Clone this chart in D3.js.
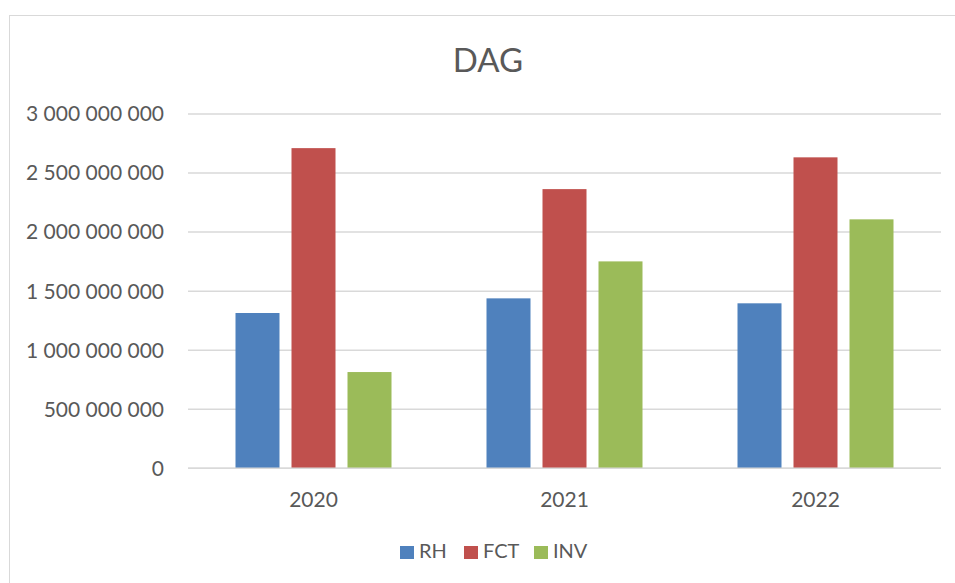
<!DOCTYPE html>
<html><head><meta charset="utf-8">
<script src="https://cdn.jsdelivr.net/npm/d3@7"></script>
<style>body{margin:0;background:#fff}svg{display:block}text{font-family:Lato,"Open Sans",sans-serif;fill:#595959}</style>
</head><body><svg id="c" width="955" height="583"></svg>
<script>
const categories = ["2020","2021","2022"];
const seriesNames = ["RH","FCT","INV"];
const RH  = [1315000000, 1439000000, 1397000000];
const FCT = [2711000000, 2364000000, 2633000000];
const INV = [815000000, 1752000000, 2108000000];
const yTicks = [0,500000000,1000000000,1500000000,2000000000,2500000000,3000000000];
const colors = ["#4F81BD","#C0504D","#9BBB59"];
const seriesValues = [RH, FCT, INV];

const svg = d3.select("#c");
svg.append("rect").attr("x",9.5).attr("y",15.5).attr("width",1000).attr("height",1000)
  .attr("fill","#fff").attr("stroke","#d9d9d9").attr("stroke-width",1);

const pLeft=188, pRight=941, pTop=114, pBottom=468.3;
const x0 = d3.scaleBand().domain(categories).range([pLeft,pRight]).paddingInner(0).paddingOuter(0);
const y = d3.scaleLinear().domain([0,3000000000]).range([pBottom,pTop]);
const fmt = v => d3.format(",")(v).replace(/,/g," ");

// gridlines
svg.append("g").selectAll("line").data(yTicks).join("line")
  .attr("x1",pLeft).attr("x2",pRight).attr("y1",d=>y(d)).attr("y2",d=>y(d))
  .attr("stroke","#d9d9d9").attr("stroke-width",1.5);

// y labels
svg.append("g").selectAll("text").data(yTicks).join("text")
  .attr("x",164).attr("y",d=>y(d)).attr("dy","0.35em").attr("text-anchor","end")
  .attr("font-size",21).text(fmt);

// bars
const bw = 44, gap = 12;
const x1 = d3.scaleBand().domain(seriesNames).range([0, 3*bw+2*gap]).paddingInner(gap/(bw+gap)).paddingOuter(0);
const groupOffset = (x0.bandwidth() - (3*bw+2*gap))/2;
categories.forEach((c,i)=>{
  seriesNames.forEach((s,j)=>{
    const v = seriesValues[j][i];
    svg.append("rect").attr("x", x0(c)+groupOffset+x1(s)).attr("width", x1.bandwidth())
      .attr("y", y(v)).attr("height", y(0)-y(v)).attr("fill", colors[j]);
  });
});

// baseline
svg.append("line").attr("x1",pLeft).attr("x2",pRight).attr("y1",y(0)).attr("y2",y(0))
  .attr("stroke","#d9d9d9").attr("stroke-width",1.5);

// x labels
svg.append("g").selectAll("text").data(categories).join("text")
  .attr("x",d=>x0(d)+x0.bandwidth()/2).attr("y",507).attr("text-anchor","middle")
  .attr("font-size",21).text(d=>d);

// title
svg.append("text").attr("x",488).attr("y",72).attr("text-anchor","middle")
  .attr("font-size",33).text("DAG");

// legend
const legX = [400, 464, 534];
seriesNames.forEach((s,j)=>{
  svg.append("rect").attr("x",legX[j]).attr("y",546).attr("width",14).attr("height",13).attr("fill",colors[j]);
  svg.append("text").attr("x",legX[j]+19).attr("y",558).attr("font-size",20).text(s);
});
</script></body></html>
